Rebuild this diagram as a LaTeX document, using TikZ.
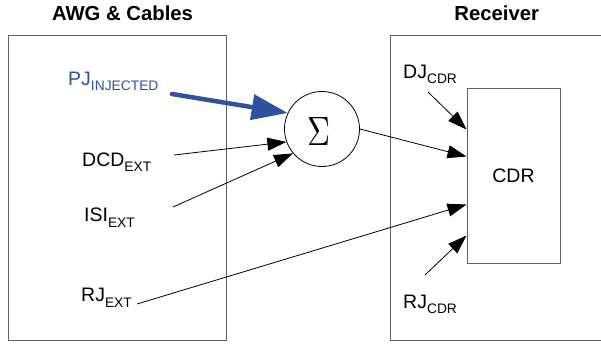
\documentclass[tikz,border=0pt]{standalone}
\usepackage{fontspec}
\setmainfont{Liberation Sans}
\usetikzlibrary{arrows.meta,calc}
\definecolor{pjblue}{RGB}{47,82,160}
\definecolor{boxgray}{RGB}{95,95,95}
\newcommand{\lowsub}[1]{\raisebox{-5.5pt}{\fontsize{13.8}{14}\selectfont #1}}
\begin{document}
\begin{tikzpicture}[x=1pt,y=-1pt,
  lbl/.style={inner sep=0pt, anchor=base west, font=\fontsize{19.5}{20}\selectfont},
  ttl/.style={inner sep=0pt, anchor=base, font=\bfseries\fontsize{20.3}{22}\selectfont},
  frame/.style={draw=boxgray, line width=1.2pt, inner sep=0pt, anchor=north west},
  thinarrow/.style={line width=0.8pt, -{Triangle[length=19pt,width=13pt]}},
  heavyarrow/.style={draw=pjblue, line width=4.5pt, line cap=round, -{Triangle[length=36pt,width=25pt]}}]
\clip (0,0) rectangle (601,345);
% frames
\node[frame, minimum width=218pt, minimum height=305pt] (awg) at (8,35) {};
\node[frame, minimum width=230pt, minimum height=305pt] (rcv) at (390,35) {};
% titles
\node[ttl] (t1) at (122.5,20.7) {AWG \& Cables};
\node[ttl] (t2) at (496.7,21) {Receiver};
% sum and CDR
\node[circle, draw, line width=0.8pt, minimum size=75pt, inner sep=0pt] (sum) at (322,129) {};
\node[inner sep=0pt] (sig) at (318.5,131) {\resizebox{23pt}{28pt}{$\Sigma$}};
\node[draw=boxgray, line width=1pt, minimum width=93pt, minimum height=175pt, inner sep=0pt, font=\fontsize{19.5}{20}\selectfont] (cdr) at (513.5,175.5) {CDR};
% labels
\node[lbl, text=pjblue] (pj) at (68,85) {PJ\lowsub{INJECTED}};
\node[lbl] (dcd) at (82,166) {DCD\lowsub{EXT}};
\node[lbl] (isi) at (84,221.5) {ISI\lowsub{EXT}};
\node[lbl] (rje) at (81,301.5) {RJ\lowsub{EXT}};
\node[lbl] (djc) at (403,78) {DJ\lowsub{CDR}};
\node[lbl] (rjc) at (403,308) {RJ\lowsub{CDR}};
% connector start points
\coordinate (pjs) at (172,94);
\coordinate (dcds) at (174,155);
\coordinate (isis) at (173,207);
\coordinate (rjes) at (137,304);
\coordinate (djs) at (428,92);
\coordinate (rjcs) at (425,275);
% connectors
\draw[heavyarrow] (pjs) -- (sum.155);
\draw[thinarrow] (dcds) -- (sum.200);
\draw[thinarrow] (isis) -- (sum.220);
\draw[thinarrow] (sum.0) -- ($(cdr.north west)+(0,69)$);
\draw[thinarrow] (rjes) -- ($(cdr.north west)+(0,117)$);
\draw[thinarrow] (djs) -- ($(cdr.north west)+(0,42)$);
\draw[thinarrow] (rjcs) -- ($(cdr.north west)+(0,148)$);
\end{tikzpicture}
\end{document}
